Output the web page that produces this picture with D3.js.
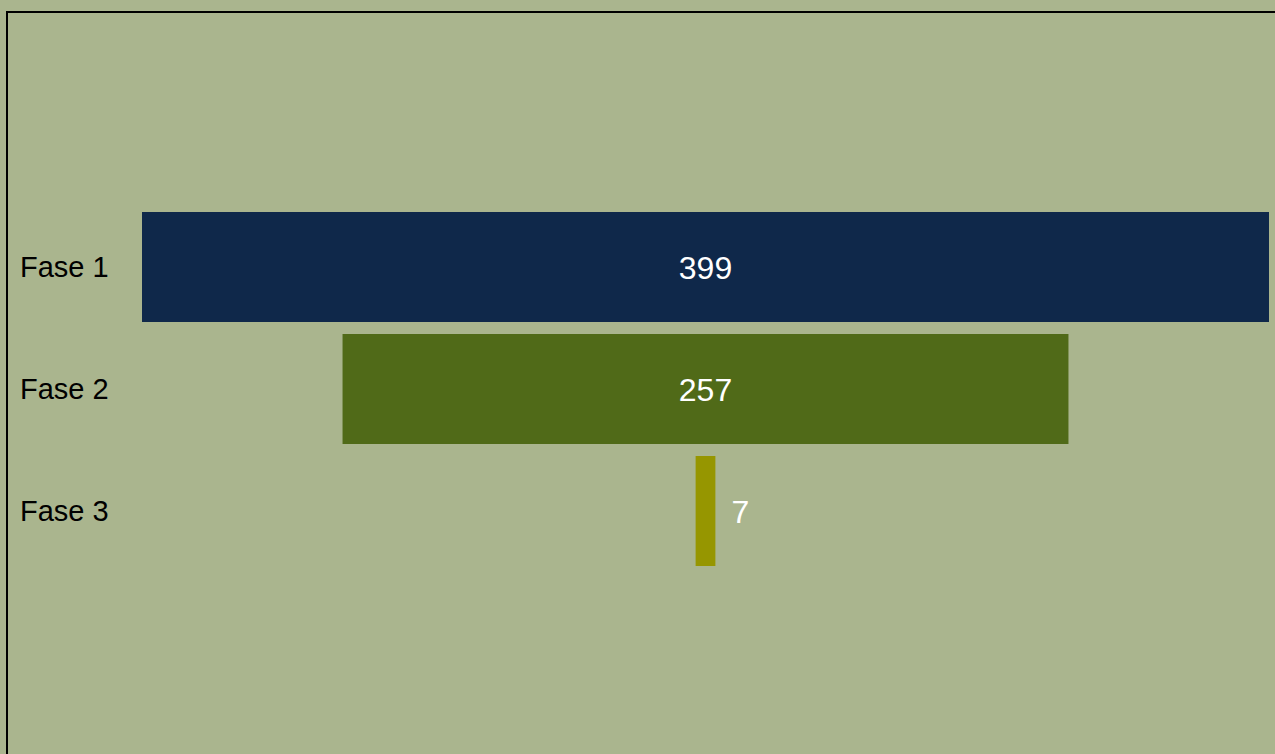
<!DOCTYPE html>
<html>
<head>
<meta charset="utf-8">
<script src="https://cdn.jsdelivr.net/npm/d3@7"></script>
<style>
  html, body { margin: 0; padding: 0; background: #aab58e; }
  svg { display: block; }
</style>
</head>
<body>
<svg id="chart" width="1275" height="754"></svg>
<script>
// Funnel stages and counts
const stages = ["Fase 1", "Fase 2", "Fase 3"];
const counts = [399, 257, 7];
const colors = ["#0f284a", "#506a18", "#969600"];

const W = 1275, H = 754;
const svg = d3.select("#chart");

svg.append("rect")
  .attr("x", 0).attr("y", 0).attr("width", W).attr("height", H)
  .attr("fill", "#aab58e");

// Frame around the plot area
svg.append("rect")
  .attr("x", 7).attr("y", 12)
  .attr("width", W + 40).attr("height", H + 40)
  .attr("fill", "none")
  .attr("stroke", "#000")
  .attr("stroke-width", 2);

const centerX = 705.5;
const fullWidth = 1127;

const w = d3.scaleLinear().domain([0, d3.max(counts)]).range([0, fullWidth]);
const y = d3.scaleBand()
  .domain(stages)
  .range([206, 572])
  .paddingInner(12 / 122)
  .paddingOuter(6 / 122);

const data = stages.map((s, i) => ({ stage: s, value: counts[i], color: colors[i] }));

const g = svg.append("g");

g.selectAll("rect.bar")
  .data(data)
  .join("rect")
  .attr("class", "bar")
  .attr("x", d => centerX - w(d.value) / 2)
  .attr("y", d => y(d.stage))
  .attr("width", d => w(d.value))
  .attr("height", y.bandwidth())
  .attr("fill", d => d.color);

const mid = d => y(d.stage) + y.bandwidth() / 2;

// Stage labels
g.selectAll("text.stage")
  .data(data)
  .join("text")
  .attr("class", "stage")
  .attr("x", 20)
  .attr("y", d => mid(d) + 10)
  .attr("font-family", "Liberation Sans, Arial, sans-serif")
  .attr("font-size", 29)
  .attr("fill", "#000")
  .text(d => d.stage);

// Value labels: inside wide bars, to the right of narrow ones
g.selectAll("text.value")
  .data(data)
  .join("text")
  .attr("class", "value")
  .attr("x", d => w(d.value) > 60 ? centerX : centerX + w(d.value) / 2 + 16)
  .attr("y", d => mid(d) + 12)
  .attr("text-anchor", d => w(d.value) > 60 ? "middle" : "start")
  .attr("font-family", "Liberation Sans, Arial, sans-serif")
  .attr("font-size", 32)
  .attr("fill", "#fff")
  .text(d => d.value);
</script>
</body>
</html>
